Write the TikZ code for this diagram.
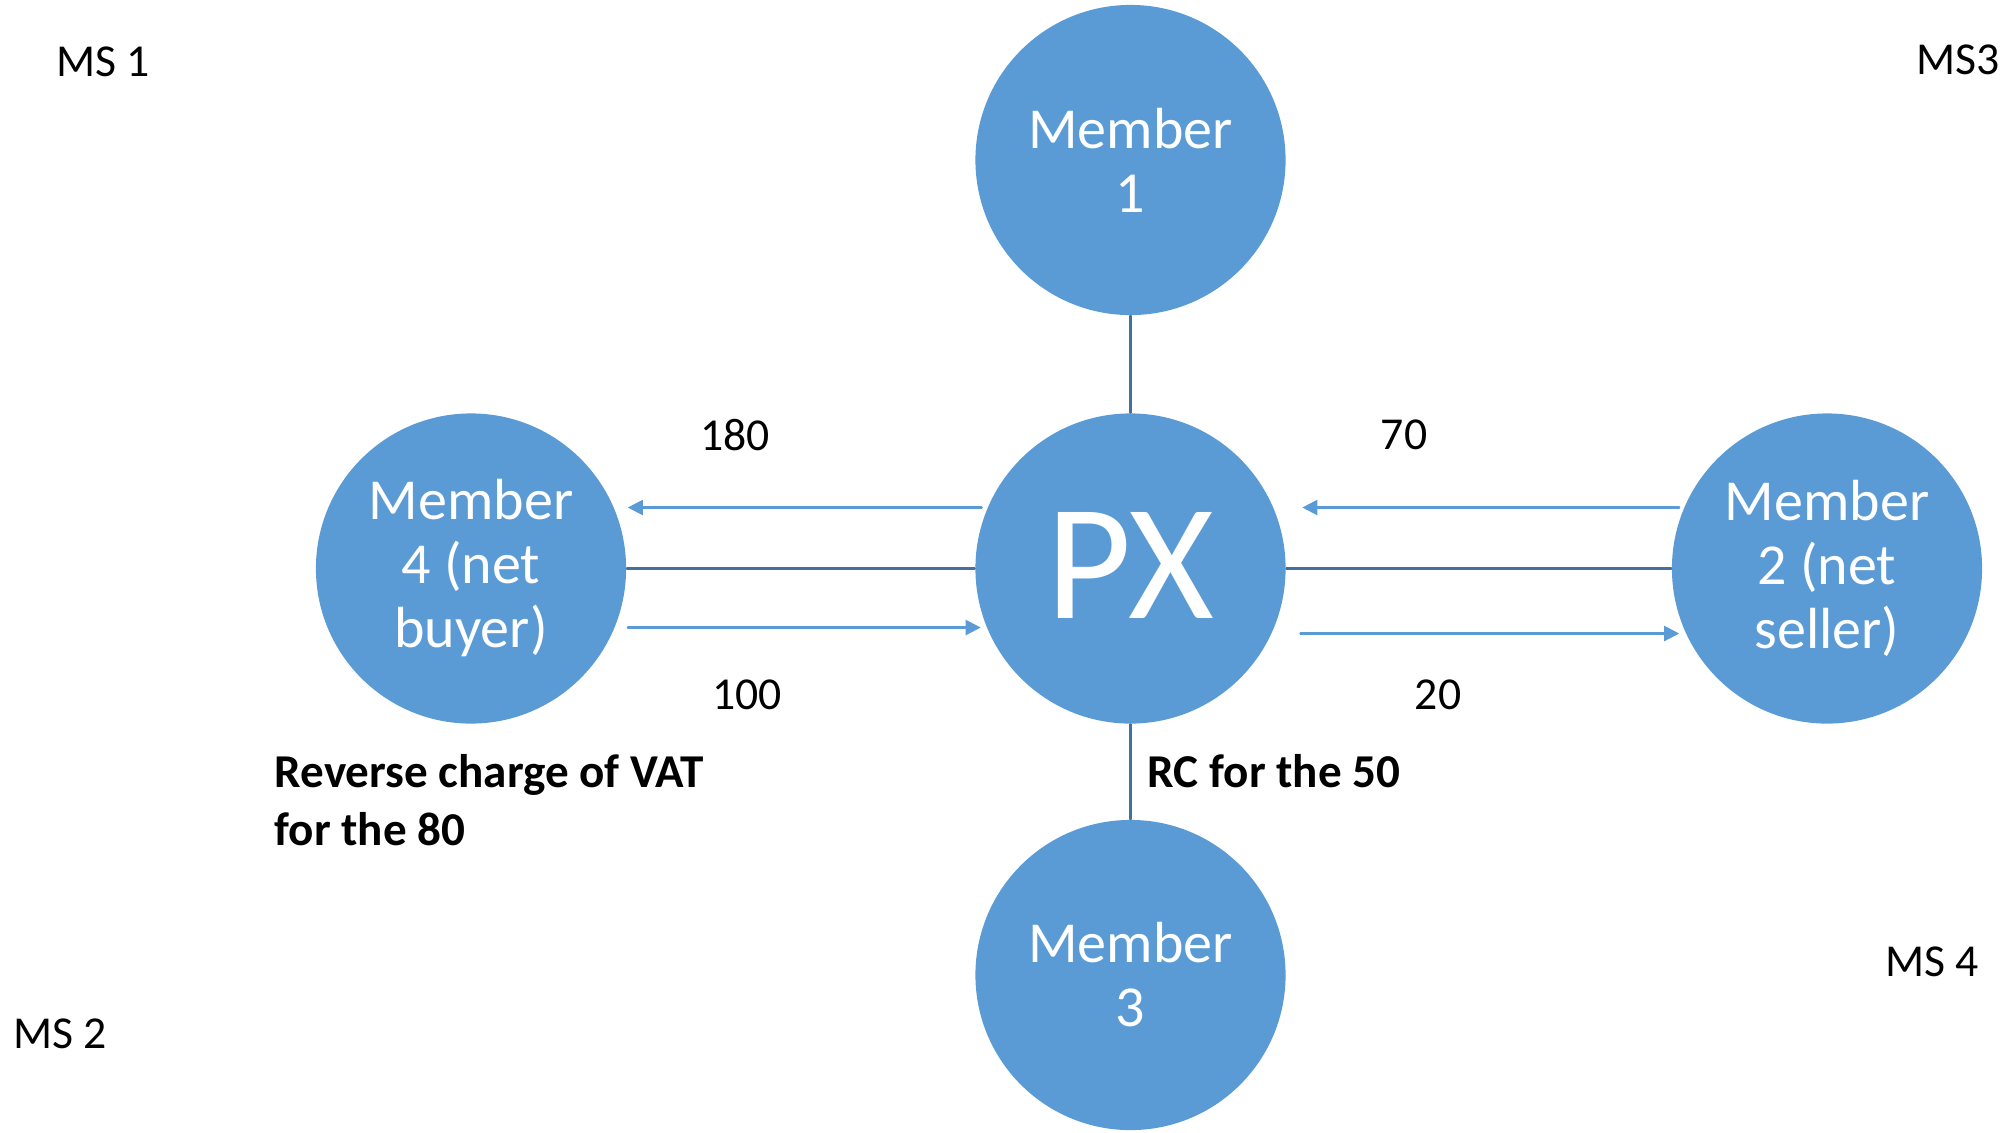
\documentclass[tikz,border=0pt]{standalone}
\usepackage{fontspec}
\setmainfont{Carlito}
\usepackage{tikz}
\usetikzlibrary{arrows.meta}
\definecolor{pxfill}{RGB}{91,155,213}
\definecolor{pxline}{RGB}{65,113,156}

\begin{document}
\begin{tikzpicture}[x=0.01cm,y=-0.01cm,line cap=round,
  member/.style={circle,fill=pxfill,minimum size=3.1cm,inner sep=0pt,text=white,
    align=center,font=\fontsize{16.5}{18.2}\selectfont},
  link/.style={pxline,line width=0.6pt},
  flow/.style={pxfill,line width=0.6pt,-{Triangle[length=0.15cm,width=0.15cm]}},
  lbl/.style={font=\fontsize{13}{16}\selectfont},
  note/.style={font=\fontsize{13.4}{16.5}\selectfont\bfseries,align=left,anchor=west,inner sep=0pt}]
  \useasboundingbox (0,0) rectangle (2012,1132);

  % the exchange and its members
  \node[member,font=\fontsize{47}{50}\selectfont] (px) at (1130.5,568.5) {\raisebox{1.5pt}{PX}};
  \node[member] (m1) at (1130.5,160) {Member\\1};
  \node[member] (m3) at (1130.5,975) {Member\\3};
  \node[member] (m4) at (471,568.5) {Member\\4 (net\\buyer)};
  \node[member] (m2) at (1827,568.5) {Member\\2 (net\\seller)};

  % plain links
  \draw[link] (m1) -- (px);
  \draw[link] (px) -- (m3);
  \draw[link] (m4) -- (px);
  \draw[link] (px) -- (m2);

  % payments
  \draw[flow] ([shift={(7,-61)}]px.west) -- ([shift={(1,-61)}]m4.east);
  \draw[flow] ([shift={(1,59)}]m4.east) -- ([shift={(6,59)}]px.west);
  \draw[flow] ([shift={(8,-61)}]m2.west) -- ([shift={(16,-61)}]px.east);
  \draw[flow] ([shift={(14,65)}]px.east) -- ([shift={(8,65)}]m2.west);

  \node[lbl] (v180) at (735,435) {180};
  \node[lbl] (v100) at (747,695) {100};
  \node[lbl] (v70) at (1404,435) {70};
  \node[lbl] (v20) at (1438,695) {20};

  \node[note] (rc80) at (274,800) {Reverse charge of VAT\\for the 80};
  \node[note] (rc50) at (1147,771) {RC for the 50};

  % member states
  \foreach \p/\t in {{(103,62)}/MS 1,{(1958,60)}/MS3,{(60,1034)}/MS 2,{(1932,962)}/MS 4}
    \node[lbl] at \p {\t};
\end{tikzpicture}
\end{document}
